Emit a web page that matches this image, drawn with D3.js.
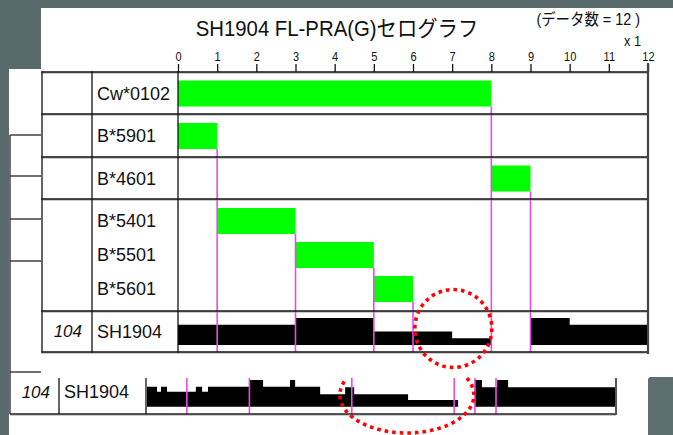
<!DOCTYPE html>
<html><head><meta charset="utf-8">
<script src="https://cdn.jsdelivr.net/npm/d3@7"></script>
<style>html,body{margin:0;padding:0;background:#586a6c;} svg{display:block}</style>
</head><body><svg id="c" width="673" height="435"></svg>
<script>
// ---------------- data ----------------
const alleles = ["Cw*0102", "B*5901", "B*4601", "B*5401", "B*5501", "B*5601"];
const alleleStart = [0, 0, 8, 1, 3, 5];
const alleleEnd = [8, 1, 9, 3, 5, 6];
const alleleRow = [0, 1, 2, 3, 3, 3];
const tickValues = [0, 1, 2, 3, 4, 5, 6, 7, 8, 9, 10, 11, 12];
const sampleName = "SH1904";
const sampleId = "104";
const beadBins = [0, 1, 2, 3, 4, 5, 6, 7, 8, 9, 10, 11];
const beadLevels = [3, 3, 3, 4, 4, 2, 2, 1, 0, 4, 3, 3];
const rawStarts = [0, 0.256, 0.358, 0.512, 1.25, 1.41, 1.56, 2.62, 2.97, 3.66, 3.79, 4.43, 5.07, 5.30, 6.68, 7.96, 8.39, 8.57, 8.96, 9.24];
const rawLevels = [3, 2.25, 3, 2.25, 3, 2.25, 3, 4, 3, 4, 3, 1.85, 2.9, 1.85, 1, 0, 4, 2.9, 4, 2.9];
const rawMarkers = [1.02, 2.62, 5.24, 7.86, 8.39, 8.93];
const titleText = "SH1904 FL-PRA(G)セログラフ";
const countText = "(データ数 = 12 )";
const scaleText = "x 1";

// ---------------- layout ----------------
const W = 673, H = 435;
const svg = d3.select("#c");
const LAT = "'Liberation Sans', Arial, sans-serif";
const JP = "'Liberation Sans', 'Noto Sans CJK JP', sans-serif";

svg.append("rect").attr("width", W).attr("height", H).attr("fill", "#586a6c");
svg.append("path").attr("fill", "#fff").attr("d", "M41,8H673V435H9V69H41Z");
svg.append("rect").attr("x", 648).attr("y", 377).attr("width", 30).attr("height", 70).attr("rx", 3).attr("fill", "#5d6f71");

const tableLeft = 42, col1 = 92, col2 = 178, tableRight = 648, tableTop = 72;
const rowEdges = [72, 114, 157, 199, 311, 352];
const tableBottom = rowEdges[rowEdges.length - 1];
const x = d3.scaleLinear().domain([0, 12]).range([col2, tableRight]);

// title texts (slightly condensed like the original)
svg.append("text").attr("transform", "translate(337,36) scale(0.925,1)").attr("text-anchor", "middle")
  .attr("font-family", JP).attr("font-size", 22).attr("fill", "#111").text(titleText);
svg.append("text").attr("transform", "translate(640,25) scale(0.9,1)").attr("text-anchor", "end")
  .attr("font-family", JP).attr("font-size", 16).attr("fill", "#111").text(countText);
svg.append("text").attr("transform", "translate(641,46) scale(0.85,1)").attr("text-anchor", "end")
  .attr("font-family", LAT).attr("font-size", 15).attr("fill", "#111").text(scaleText);

// axis
const axis = svg.append("g").attr("transform", `translate(0,${tableTop})`)
  .call(d3.axisTop(x).tickValues(tickValues).tickSize(8).tickSizeOuter(0).tickPadding(3));
axis.select(".domain").remove();
axis.selectAll(".tick line").attr("stroke", "#111").attr("stroke-width", 1.3);
axis.selectAll(".tick text").attr("font-family", LAT).attr("font-size", 13.5)
  .attr("transform", "scale(0.82,1)").attr("fill", "#111");

// row centers
const groupCenter = (rowEdges[3] + rowEdges[4]) / 2;
const groupStep = 34;
const rowCenter = alleles.map((a, i) => {
  const r = alleleRow[i];
  if (r < 3) return (rowEdges[r] + rowEdges[r + 1]) / 2 + 0.5;
  const k = alleleRow.slice(0, i).filter(v => v === 3).length;
  return groupCenter + (k - 1) * groupStep;
});
const barH = 26;

// green bars
svg.append("g").selectAll("rect").data(alleles).join("rect")
  .attr("x", (d, i) => x(alleleStart[i]))
  .attr("width", (d, i) => x(alleleEnd[i]) - x(alleleStart[i]))
  .attr("y", (d, i) => rowCenter[i] - barH / 2)
  .attr("height", barH)
  .attr("fill", "#00ff00");

// labels
svg.append("g").selectAll("text").data(alleles).join("text")
  .attr("x", col1 + 5).attr("y", (d, i) => rowCenter[i])
  .attr("dominant-baseline", "central")
  .attr("font-family", LAT).attr("font-size", 18).attr("fill", "#111").text(d => d);

const sRowC = (rowEdges[4] + rowEdges[5]) / 2;
svg.append("text").attr("x", col1 + 5).attr("y", sRowC).attr("dominant-baseline", "central")
  .attr("font-family", LAT).attr("font-size", 18).attr("fill", "#111").text(sampleName);
svg.append("text").attr("x", col1 - 10).attr("y", sRowC).attr("dominant-baseline", "central")
  .attr("text-anchor", "end").attr("font-style", "italic")
  .attr("font-family", LAT).attr("font-size", 17).attr("fill", "#111").text(sampleId);

// sample profile (top)
const yS = d3.scaleLinear().domain([0, 4]).range([345, 318]);
const stepPts = beadBins.map((b, i) => [b, beadLevels[i]]);
stepPts.push([12, beadLevels[beadLevels.length - 1]]);
svg.append("path").datum(stepPts)
  .attr("d", d3.area().curve(d3.curveStepAfter).x(d => x(d[0])).y0(yS(0)).y1(d => yS(d[1])))
  .attr("fill", "#000");

// magenta boundary lines (top)
svg.append("g").selectAll("line").data(alleles).join("line")
  .attr("x1", (d, i) => x(alleleEnd[i])).attr("x2", (d, i) => x(alleleEnd[i]))
  .attr("y1", (d, i) => rowCenter[i] + barH / 2).attr("y2", tableBottom)
  .attr("stroke", "#e84ce8").attr("stroke-width", 1.6);

// table lines
const tl = svg.append("g").attr("stroke-linecap", "square");
rowEdges.forEach(y => {
  tl.append("line").attr("x1", tableLeft).attr("x2", tableRight).attr("y1", y + 1).attr("y2", y + 1).attr("stroke", "#9a9a9a").attr("stroke-width", 1);
  tl.append("line").attr("x1", tableLeft).attr("x2", tableRight).attr("y1", y).attr("y2", y).attr("stroke", "#111").attr("stroke-width", 1.3);
});
[tableLeft, col1, col2].forEach(xx => {
  tl.append("line").attr("x1", xx).attr("x2", xx).attr("y1", tableTop).attr("y2", tableBottom).attr("stroke", "#111").attr("stroke-width", 1.3);
});
tl.append("line").attr("x1", tableRight).attr("x2", tableRight).attr("y1", tableTop - 8).attr("y2", tableBottom + 1).attr("stroke", "#444").attr("stroke-width", 2.2);

// dendrogram-like left lines
const dendY = [135, 176, 219, 261, 372];
const dl = svg.append("g").attr("stroke", "#333").attr("stroke-width", 1.4);
dl.append("line").attr("x1", 10).attr("x2", 10).attr("y1", dendY[0]).attr("y2", 414);
dendY.forEach(y => dl.append("line").attr("x1", 10).attr("x2", 41).attr("y1", y).attr("y2", y));

// bottom strip
const xB = d3.scaleLinear().domain([0, 12]).range([147, 616]);
const yB = d3.scaleLinear().domain([0, 4]).range([406.7, 380]);
const rawPts = rawStarts.map((s, i) => [s, rawLevels[i]]);
rawPts.push([12, rawLevels[rawLevels.length - 1]]);
svg.append("path").datum(rawPts)
  .attr("d", d3.area().curve(d3.curveStepAfter).x(d => xB(d[0])).y0(yB(0)).y1(d => yB(d[1])))
  .attr("fill", "#000");
svg.append("g").selectAll("line").data(rawMarkers).join("line")
  .attr("x1", d => xB(d)).attr("x2", d => xB(d)).attr("y1", 378).attr("y2", 414)
  .attr("stroke", "#e84ce8").attr("stroke-width", 1.6);

const bl = svg.append("g");
bl.append("line").attr("x1", 10).attr("x2", xB(12)).attr("y1", 415).attr("y2", 415).attr("stroke", "#9a9a9a").attr("stroke-width", 1);
bl.append("line").attr("x1", 10).attr("x2", xB(12)).attr("y1", 414).attr("y2", 414).attr("stroke", "#222").attr("stroke-width", 1.3);
[59, xB(0) - 1].forEach(xx => bl.append("line").attr("x1", xx).attr("x2", xx).attr("y1", 378).attr("y2", 414).attr("stroke", "#111").attr("stroke-width", 1.3));
bl.append("line").attr("x1", xB(12)).attr("x2", xB(12)).attr("y1", 378).attr("y2", 415).attr("stroke", "#555").attr("stroke-width", 2);
svg.append("text").attr("x", 50).attr("y", 392).attr("dominant-baseline", "central")
  .attr("text-anchor", "end").attr("font-style", "italic")
  .attr("font-family", LAT).attr("font-size", 17).attr("fill", "#111").text(sampleId);
svg.append("text").attr("x", 64).attr("y", 392).attr("dominant-baseline", "central")
  .attr("font-family", LAT).attr("font-size", 18).attr("fill", "#111").text(sampleName);

// red dotted annotations
const dotted = sel => sel.attr("fill", "none").attr("stroke", "#ff0000").attr("stroke-width", 3.6).attr("stroke-dasharray", "3.6 4");
svg.append("ellipse").attr("cx", x(7.03)).attr("cy", 328.5).attr("rx", 38.5).attr("ry", 39).call(dotted);
const ec = [xB(6.65), 395], erx = 67, ery = 38;
const arcPts = d3.range(-26.5, 203.1, 2).map(a => {
  const t = a * Math.PI / 180;
  return [ec[0] + erx * Math.cos(t), ec[1] + ery * Math.sin(t)];
});
svg.append("path").attr("d", d3.line()(arcPts)).call(dotted);
</script>
</body></html>
